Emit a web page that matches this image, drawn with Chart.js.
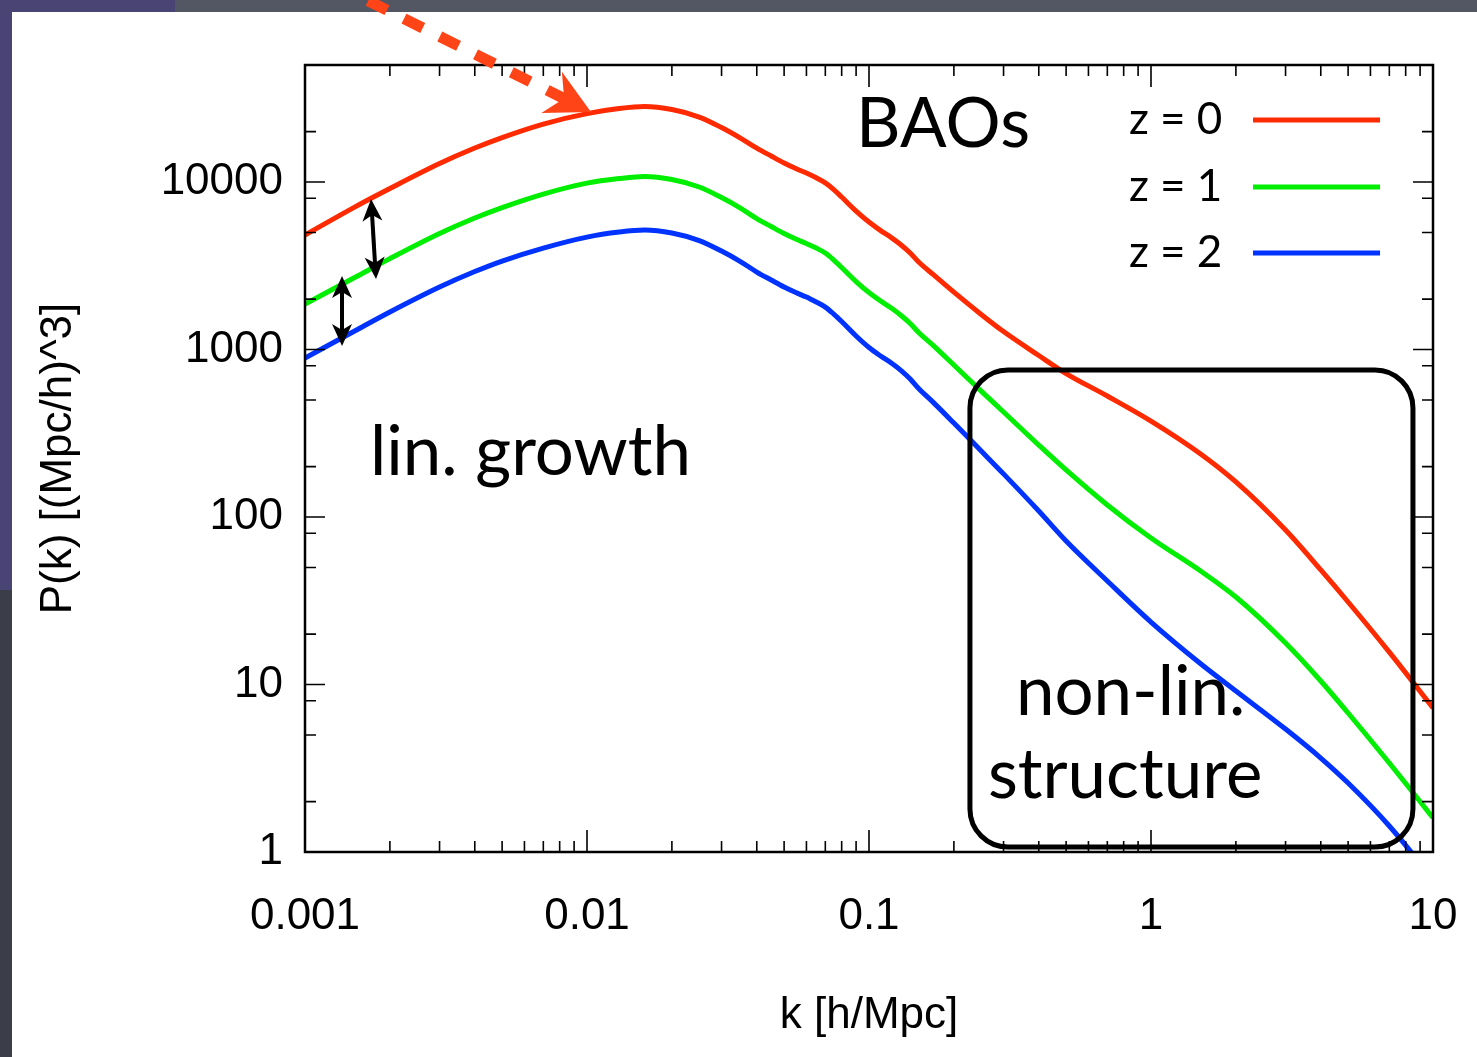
<!DOCTYPE html>
<html>
<head>
<meta charset="utf-8">
<title>P(k)</title>
<script src="https://cdn.jsdelivr.net/npm/chart.js@4.4.0/dist/chart.umd.min.js"></script>
<style>
  html, body { margin: 0; padding: 0; background: #4e505c; overflow: hidden; }
  #wrap { width: 1477px; height: 1057px; }
</style>
</head>
<body>
<div id="wrap"><canvas id="graficoPk" width="1477" height="1057"></canvas></div>
<script>
// k in h/Mpc, P(k) in (Mpc/h)^3
const kValues = [0.001, 0.0015, 0.002, 0.003, 0.004, 0.005, 0.007, 0.01, 0.013, 0.016,
  0.02, 0.025, 0.03, 0.035, 0.04, 0.045, 0.05, 0.055, 0.06, 0.065,
  0.07, 0.075, 0.08, 0.09, 0.1, 0.11, 0.12, 0.13, 0.14, 0.15,
  0.17, 0.2, 0.25, 0.3, 0.4, 0.5, 0.7, 1, 1.5, 2,
  3, 4, 5, 7, 10];

const pZ0 = [4830, 7090, 9150, 12900, 15960, 18440, 22200, 25640, 27470, 28230,
  27090, 24440, 21160, 18310, 15960, 14300, 12990, 12040, 11320, 10600,
  9890, 9020, 8140, 6710, 5770, 5130, 4660, 4210, 3770, 3330,
  2780, 2200, 1620, 1280, 921, 719, 528, 374, 238, 162,
  83.6, 48.3, 31.1, 15.6, 7.24];

const pZ1 = [1869, 2690, 3490, 4930, 6100, 7040, 8480, 9860, 10490, 10790,
  10350, 9340, 8080, 6995, 6056, 5425, 4927, 4567, 4295, 4036,
  3768, 3422, 3087, 2547, 2189, 1948, 1769, 1596, 1430, 1264,
  1049, 808, 565, 424, 269, 191, 118, 74.9, 47.6, 33.3,
  17.7, 10.5, 6.76, 3.40, 1.60];

const pZ2 = [890, 1290, 1675, 2361, 2922, 3376, 4036, 4694, 5029, 5170,
  4962, 4474, 3873, 3353, 2902, 2600, 2361, 2189, 2058, 1921,
  1793, 1629, 1470, 1204, 1028, 915, 831, 749, 667, 585,
  479, 364, 248, 181, 108.6, 71.9, 41.5, 23.6, 13.3, 9.15,
  5.42, 3.64, 2.58, 1.43, 0.69];

const seriesLabels = ['z = 0', 'z = 1', 'z = 2'];
const seriesColors = ['#ff2a00', '#00ee00', '#0033ff'];

const xTickValues = [0.001, 0.01, 0.1, 1, 10];
const yTickValues = [1, 10, 100, 1000, 10000];
const xMinorMantissas = [2, 3, 4, 5, 6, 7, 8, 9];
const yMinorMantissas = [2, 5, 8];

// annotations, placed in data units (k, P)
const textLabels = [
  { text: 'BAOs', k: 0.090, p: 16190 },
  { text: 'lin. growth', k: 0.0017, p: 178 },
  { text: 'non-lin.', k: 0.332, p: 6.58 },
  { text: 'structure', k: 0.264, p: 2.10 }
];
const nonLinBox = { k1: 0.228, k2: 8.49, p1: 755, p2: 1.071 };
const growthArrows = [
  { k1: 0.001715, p1: 7910, k2: 0.001786, p2: 2636 },
  { k1: 0.001353, p1: 2748, k2: 0.001353, p2: 1050 }
];
const baoArrow = { k1: 0.0012, p1: 160000, k2: 0.01033, p2: 26200 };
const legendTextK = 0.835;
const legendLineK = [2.30, 6.49];
const legendRowsP = [23440, 9333, 3767];

const FONT_AXIS = '"Liberation Sans", Arial, sans-serif';
const FONT_NOTE = 'Lato, "Open Sans", sans-serif';

const fundoPlugin = {
  id: 'fundo',
  beforeDraw(chart) {
    const ctx = chart.ctx;
    const w = chart.width, h = chart.height;
    ctx.save();
    ctx.fillStyle = '#ffffff';
    ctx.fillRect(0, 0, w, h);
    ctx.fillStyle = '#535663';
    ctx.fillRect(0, 0, w, 12);
    ctx.fillStyle = '#4a4474';
    ctx.fillRect(0, 0, 175, 12);
    ctx.fillRect(0, 0, 12, 590);
    ctx.fillStyle = '#3b3d48';
    ctx.fillRect(0, 590, 12, h - 590);
    ctx.restore();
  }
};

const molduraPlugin = {
  id: 'moldura',
  afterDatasetsDraw(chart) {
    const ctx = chart.ctx;
    const a = chart.chartArea;
    const x = chart.scales.x, y = chart.scales.y;
    ctx.save();
    ctx.strokeStyle = '#000';
    ctx.lineWidth = 1.6;
    ctx.beginPath();
    const xTick = (v, len) => {
      const px = x.getPixelForValue(v);
      ctx.moveTo(px, a.bottom); ctx.lineTo(px, a.bottom - len);
      ctx.moveTo(px, a.top); ctx.lineTo(px, a.top + len);
    };
    const yTick = (v, len) => {
      const py = y.getPixelForValue(v);
      ctx.moveTo(a.left, py); ctx.lineTo(a.left + len, py);
      ctx.moveTo(a.right, py); ctx.lineTo(a.right - len, py);
    };
    xTickValues.forEach(v => {
      xTick(v, 22);
      if (v < 10) xMinorMantissas.forEach(m => xTick(m * v, 11));
    });
    yTickValues.forEach(v => {
      yTick(v, 20);
      yMinorMantissas.forEach(m => { if (m * v < 50000) yTick(m * v, 11); });
    });
    ctx.stroke();
    ctx.lineWidth = 2.5;
    ctx.strokeRect(a.left, a.top, a.right - a.left, a.bottom - a.top);
    ctx.restore();
  }
};

function desenharPonta(ctx, tx, ty, ux, uy, len, half, notch) {
  const nx = -uy, ny = ux;
  const bx = tx - ux * len, by = ty - uy * len;
  ctx.beginPath();
  ctx.moveTo(tx, ty);
  ctx.lineTo(bx + nx * half, by + ny * half);
  ctx.lineTo(tx - ux * (len - notch), ty - uy * (len - notch));
  ctx.lineTo(bx - nx * half, by - ny * half);
  ctx.closePath();
  ctx.fill();
}

const anotacoesPlugin = {
  id: 'anotacoes',
  afterDraw(chart) {
    const ctx = chart.ctx;
    const x = chart.scales.x, y = chart.scales.y;
    ctx.save();

    // non-linear box
    const bl = x.getPixelForValue(nonLinBox.k1), br = x.getPixelForValue(nonLinBox.k2);
    const bt = y.getPixelForValue(nonLinBox.p1), bb = y.getPixelForValue(nonLinBox.p2);
    const r = 38;
    ctx.strokeStyle = '#000';
    ctx.lineWidth = 5;
    ctx.beginPath();
    ctx.moveTo(bl + r, bt);
    ctx.arcTo(br, bt, br, bb, r);
    ctx.arcTo(br, bb, bl, bb, r);
    ctx.arcTo(bl, bb, bl, bt, r);
    ctx.arcTo(bl, bt, br, bt, r);
    ctx.closePath();
    ctx.stroke();

    // texts
    ctx.fillStyle = '#000';
    ctx.textAlign = 'left';
    ctx.textBaseline = 'alphabetic';
    ctx.font = '69px ' + FONT_NOTE;
    textLabels.forEach(t => {
      ctx.fillText(t.text, x.getPixelForValue(t.k), y.getPixelForValue(t.p));
    });

    // legend: text then line
    ctx.font = '44px ' + FONT_NOTE;
    chart.data.datasets.forEach((ds, i) => {
      const py = y.getPixelForValue(legendRowsP[i]);
      ctx.fillStyle = '#000';
      ctx.fillText(ds.label, x.getPixelForValue(legendTextK), py + 14);
      ctx.strokeStyle = ds.borderColor;
      ctx.lineWidth = 5;
      ctx.beginPath();
      ctx.moveTo(x.getPixelForValue(legendLineK[0]), py);
      ctx.lineTo(x.getPixelForValue(legendLineK[1]), py);
      ctx.stroke();
    });

    // growth double arrows
    ctx.strokeStyle = '#000';
    ctx.fillStyle = '#000';
    growthArrows.forEach(g => {
      const x1 = x.getPixelForValue(g.k1), y1 = y.getPixelForValue(g.p1);
      const x2 = x.getPixelForValue(g.k2), y2 = y.getPixelForValue(g.p2);
      const d = Math.hypot(x2 - x1, y2 - y1);
      const ux = (x2 - x1) / d, uy = (y2 - y1) / d;
      ctx.lineWidth = 4;
      ctx.beginPath();
      ctx.moveTo(x1 + ux * 12, y1 + uy * 12);
      ctx.lineTo(x2 - ux * 12, y2 - uy * 12);
      ctx.stroke();
      desenharPonta(ctx, x2, y2, ux, uy, 22, 10, 6);
      desenharPonta(ctx, x1, y1, -ux, -uy, 22, 10, 6);
    });

    // dashed BAO arrow
    const sx = x.getPixelForValue(baoArrow.k1), sy = y.getPixelForValue(baoArrow.p1);
    const tx = x.getPixelForValue(baoArrow.k2), ty = y.getPixelForValue(baoArrow.p2);
    const dd = Math.hypot(tx - sx, ty - sy);
    const ax = (tx - sx) / dd, ay = (ty - sy) / dd;
    ctx.strokeStyle = '#ff4418';
    ctx.fillStyle = '#ff4418';
    ctx.lineWidth = 11;
    ctx.setLineDash([21, 19]);
    ctx.beginPath();
    ctx.moveTo(tx - ax * 28, ty - ay * 28);
    ctx.lineTo(sx, sy);
    ctx.stroke();
    ctx.setLineDash([]);
    desenharPonta(ctx, tx, ty, ax, ay, 44, 23, 14);

    ctx.restore();
  }
};

function serie(valores) {
  return kValues.map((k, i) => ({ x: k, y: valores[i] }));
}

function inicializarGrafico() {
  const ctx = document.getElementById('graficoPk').getContext('2d');
  const conjuntos = [pZ0, pZ1, pZ2].map((valores, i) => ({
    label: seriesLabels[i],
    data: serie(valores),
    borderColor: seriesColors[i],
    borderWidth: 5,
    pointRadius: 0,
    cubicInterpolationMode: 'monotone',
    fill: false,
    clip: 0
  }));

  new Chart(ctx, {
    type: 'line',
    data: { datasets: conjuntos },
    options: {
      responsive: false,
      animation: false,
      events: [],
      layout: { padding: { top: 65, right: 44, left: 0, bottom: 0 } },
      plugins: {
        legend: { display: false },
        tooltip: { enabled: false }
      },
      scales: {
        x: {
          type: 'logarithmic',
          min: 0.001,
          max: 10,
          grid: { display: false, drawTicks: false },
          border: { display: false },
          afterBuildTicks: function(scale) {
            scale.ticks = xTickValues.map(v => ({ value: v }));
          },
          afterFit: function(scale) {
            scale.height = 205;
            scale.paddingLeft = 0;
            scale.paddingRight = 0;
          },
          ticks: {
            color: '#000',
            padding: 38,
            maxRotation: 0,
            autoSkip: false,
            font: { family: FONT_AXIS, size: 44 },
            callback: function(value) { return String(value); }
          },
          title: {
            display: true,
            text: 'k [h/Mpc]',
            color: '#000',
            font: { family: FONT_AXIS, size: 44 },
            padding: { top: 0, bottom: 15 }
          }
        },
        y: {
          type: 'logarithmic',
          min: 1,
          max: 50000,
          grid: { display: false, drawTicks: false },
          border: { display: false },
          afterBuildTicks: function(scale) {
            scale.ticks = yTickValues.map(v => ({ value: v }));
          },
          afterFit: function(scale) {
            scale.width = 305;
            scale.paddingTop = 0;
            scale.paddingBottom = 0;
          },
          ticks: {
            color: '#000',
            padding: 22,
            autoSkip: false,
            font: { family: FONT_AXIS, size: 44 },
            callback: function(value) { return String(value); }
          },
          title: {
            display: true,
            text: 'P(k) [(Mpc/h)^3]',
            color: '#000',
            font: { family: FONT_AXIS, size: 44 },
            padding: { top: 32, bottom: 0 }
          }
        }
      }
    },
    plugins: [fundoPlugin, molduraPlugin, anotacoesPlugin]
  });
}

document.addEventListener('DOMContentLoaded', function() {
  if (document.fonts && document.fonts.load) {
    Promise.all([
      document.fonts.load('69px Lato'),
      document.fonts.load('44px "Liberation Sans"')
    ]).then(inicializarGrafico, inicializarGrafico);
  } else {
    inicializarGrafico();
  }
});
</script>
</body>
</html>
